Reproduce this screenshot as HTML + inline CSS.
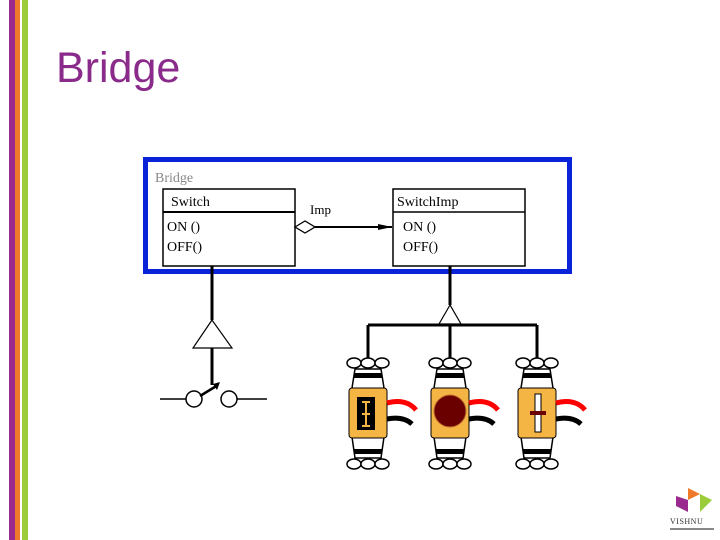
<!DOCTYPE html>
<html><head><style>
body{margin:0;width:720px;height:540px;background:#fff;overflow:hidden;position:relative;font-family:"Liberation Sans",sans-serif}
</style></head><body>
<svg width="720" height="540" viewBox="0 0 720 540" xmlns="http://www.w3.org/2000/svg" style="position:absolute;left:0;top:0">
<rect x="9" y="0" width="6" height="540" fill="#9b2a8e"/>
<rect x="15" y="0" width="5" height="540" fill="#ee7a2a"/>
<rect x="22" y="0" width="6" height="540" fill="#9ccc3a"/>
<text x="56" y="82" font-family="Liberation Sans, sans-serif" font-size="43" fill="#8a2a8a">Bridge</text>

<rect x="145.5" y="159.5" width="424" height="112" fill="none" stroke="#0a22d8" stroke-width="5"/>
<g font-family="Liberation Serif, serif" font-size="14">
<text x="155" y="182" fill="#888">Bridge</text>
<rect x="163" y="189" width="132" height="77" fill="#fff" stroke="#000" stroke-width="1.5"/>
<line x1="163" y1="212" x2="295" y2="212" stroke="#000" stroke-width="2"/>
<text x="171" y="206">Switch</text>
<text x="167" y="231">ON ()</text>
<text x="167" y="251">OFF()</text>
<rect x="393" y="189" width="132" height="77" fill="#fff" stroke="#000" stroke-width="1.5"/>
<line x1="393" y1="212" x2="525" y2="212" stroke="#000" stroke-width="1.5"/>
<text x="397" y="206">SwitchImp</text>
<text x="403" y="231">ON ()</text>
<text x="403" y="251">OFF()</text>
<text x="310" y="214" font-size="13">Imp</text>
</g>
<polygon points="295,227 305,221 315,227 305,233" fill="#fff" stroke="#000" stroke-width="1.3"/>
<line x1="315" y1="227" x2="392" y2="227" stroke="#000" stroke-width="2"/>
<polygon points="378,224 392,227 378,230" fill="#000"/>

<g stroke="#000" stroke-width="3" fill="none">
<line x1="212" y1="266" x2="212" y2="320"/>
<line x1="212" y1="348" x2="212" y2="385"/>
<line x1="450" y1="266" x2="450" y2="305"/>
<line x1="368" y1="325" x2="537" y2="325"/>
<line x1="368" y1="325" x2="368" y2="358"/>
<line x1="450" y1="325" x2="450" y2="358"/>
<line x1="537" y1="325" x2="537" y2="358"/>
</g>
<polygon points="212,320 193,348 232,348" fill="#fff" stroke="#000" stroke-width="1.2"/>
<polygon points="450,305 439,324 461,324" fill="#fff" stroke="#000" stroke-width="1.2"/>
<g stroke="#000" stroke-width="1.5" fill="#fff">
<line x1="160" y1="399" x2="186" y2="399"/>
<line x1="237" y1="399" x2="267" y2="399"/>
<circle cx="194" cy="399" r="8"/>
<circle cx="229" cy="399" r="8"/>
<line x1="200" y1="396" x2="218" y2="385" stroke-width="2.5"/>
</g>
<polygon points="213,384 220,382 217,390" fill="#000"/>

<defs>
<g id="sw">
<g fill="#fff" stroke="#000" stroke-width="1.5">
<ellipse cx="-14" cy="363" rx="7" ry="5"/><ellipse cx="0" cy="363" rx="7" ry="5"/><ellipse cx="14" cy="363" rx="7" ry="5"/>
<ellipse cx="-14" cy="464" rx="7" ry="5"/><ellipse cx="0" cy="464" rx="7" ry="5"/><ellipse cx="14" cy="464" rx="7" ry="5"/>
<polygon points="-13,369 13,369 16,388 16,437 13,458 -13,458 -16,437 -16,388"/>
</g>
<rect x="-14" y="373" width="28" height="5" fill="#000"/>
<rect x="-14" y="449" width="28" height="5" fill="#000"/>
<rect x="-19" y="388" width="38" height="50" rx="3" fill="#f5b544" stroke="#000" stroke-width="1"/>
<path d="M19,403 Q38,398 48,410" stroke="#f00" stroke-width="5" fill="none"/>
<path d="M19,419 Q35,416 44,424" stroke="#000" stroke-width="5" fill="none"/>
</g>
</defs>
<use href="#sw" x="368"/>
<use href="#sw" x="450"/>
<use href="#sw" x="537"/>
<rect x="357" y="397" width="18" height="33" fill="#000"/>
<path d="M362,402 h8 M366,402 v24 M362,414 h8 M362,426 h8" stroke="#f5b544" stroke-width="2"/>
<circle cx="450" cy="411" r="16" fill="#6a0000" stroke="#c07030" stroke-width="1"/>
<rect x="535" y="394" width="6" height="38" fill="#fff" stroke="#000"/>
<rect x="530" y="411" width="16" height="4" fill="#6a0000"/>

<polygon points="688,488 700,494 688,500" fill="#ee7a2a"/>
<polygon points="676,496 688,500 688,512 676,506" fill="#9b2a8e"/>
<polygon points="700,494 712,500 700,512" fill="#9ccc3a"/>
<text x="670" y="524" font-family="Liberation Serif, serif" font-size="8" fill="#333" letter-spacing="0.5">VISHNU</text>
<rect x="670" y="528" width="44" height="2" fill="#888"/>
</svg>
</body></html>
